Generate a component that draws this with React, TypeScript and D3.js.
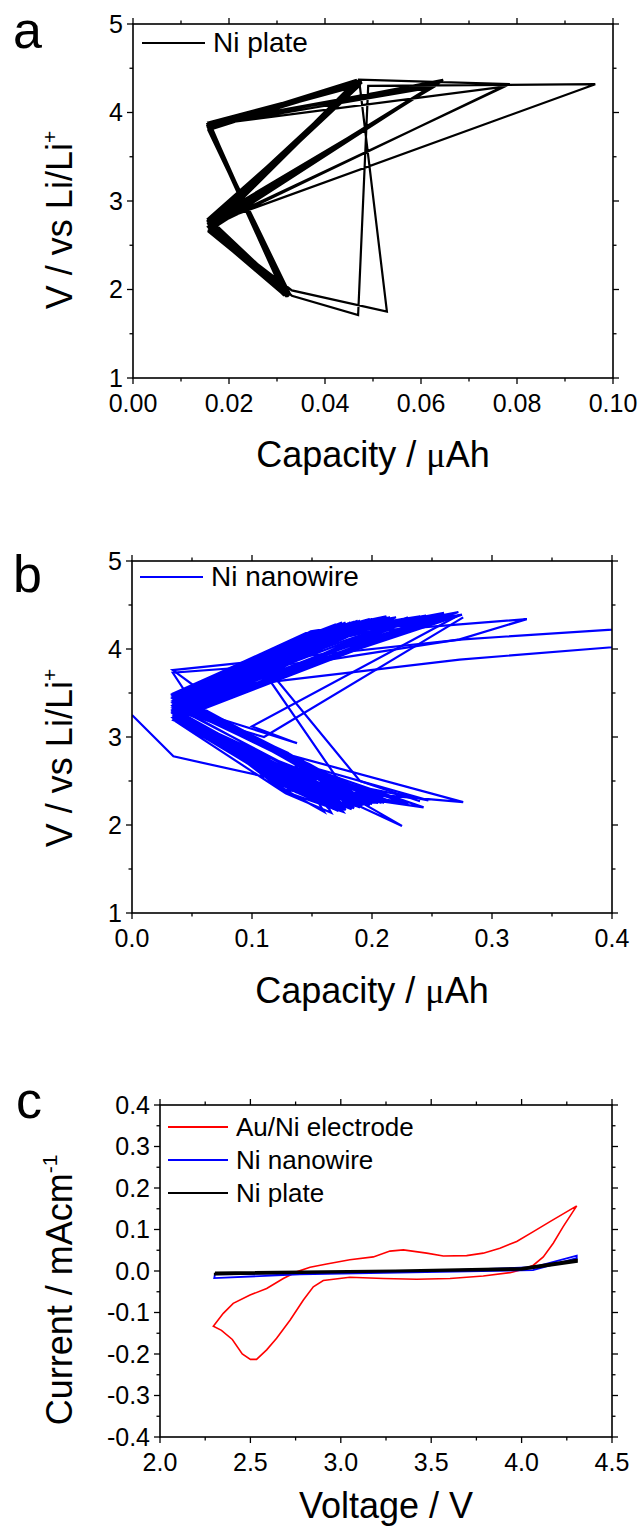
import React, { useRef, useEffect } from 'react';
import * as d3 from 'd3';

const W = 644;
const H = 1528;
const FONT = '"Liberation Sans", Arial, sans-serif';

// ---------- panel a : Ni plate ----------
// first cycles (the odd ones, with the long excursions)
const plateFirstCap = [0.0158, 0.0318, 0.0160, 0.0963, 0.0490, 0.0469, 0.0331, 0.0159, 0.0785, 0.0471, 0.0529, 0.0331, 0.0160, 0.0770];
const plateFirstV = [3.87, 1.95, 2.74, 4.32, 4.30, 1.71, 1.93, 2.72, 4.32, 4.37, 1.75, 1.99, 2.70, 4.29];
// later cycles: upper knee -> bottom -> lower knee -> top
const plateUCap = [0.0158, 0.0156, 0.0159, 0.0157, 0.0160, 0.0155, 0.0158, 0.0157, 0.0159, 0.0156, 0.0158, 0.0160, 0.0157, 0.0155, 0.0159, 0.0158, 0.0156, 0.0157, 0.0159, 0.0160, 0.0156, 0.0158, 0.0157, 0.0159];
const plateUV = [3.86, 3.84, 3.89, 3.82, 3.87, 3.85, 3.81, 3.89, 3.84, 3.86, 3.83, 3.88, 3.85, 3.87, 3.82, 3.86, 3.84, 3.80, 3.88, 3.85, 3.83, 3.87, 3.84, 3.86];
const plateBCap = [0.0318, 0.0322, 0.0315, 0.0325, 0.0320, 0.0312, 0.0327, 0.0319, 0.0316, 0.0323, 0.0321, 0.0314, 0.0326, 0.0318, 0.0320, 0.0317, 0.0324, 0.0319, 0.0313, 0.0322, 0.0328, 0.0316, 0.0321, 0.0318];
const plateBV = [1.94, 1.96, 1.93, 1.95, 1.92, 1.97, 1.94, 1.93, 1.96, 1.95, 1.92, 1.94, 1.96, 1.93, 1.95, 1.94, 1.92, 1.96, 1.95, 1.93, 1.94, 1.97, 1.92, 1.95];
const plateLCap = [0.0158, 0.0160, 0.0156, 0.0159, 0.0157, 0.0158, 0.0161, 0.0156, 0.0159, 0.0157, 0.0160, 0.0158, 0.0156, 0.0159, 0.0157, 0.0160, 0.0158, 0.0157, 0.0159, 0.0156, 0.0160, 0.0158, 0.0157, 0.0159];
const plateLV = [2.72, 2.68, 2.77, 2.70, 2.74, 2.65, 2.79, 2.71, 2.69, 2.75, 2.73, 2.66, 2.78, 2.70, 2.74, 2.72, 2.67, 2.76, 2.69, 2.80, 2.71, 2.66, 2.75, 2.73];
const plateTCap = [0.0472, 0.0465, 0.0470, 0.0640, 0.0475, 0.0468, 0.0630, 0.0473, 0.0646, 0.0469, 0.0476, 0.0620, 0.0471, 0.0467, 0.0638, 0.0474, 0.0470, 0.0645, 0.0466, 0.0473, 0.0632, 0.0469, 0.0477, 0.0642];
const plateTV = [4.36, 4.33, 4.35, 4.34, 4.37, 4.32, 4.30, 4.36, 4.37, 4.34, 4.35, 4.28, 4.33, 4.36, 4.35, 4.31, 4.34, 4.36, 4.37, 4.32, 4.33, 4.35, 4.34, 4.36];

// ---------- panel b : Ni nanowire ----------
const wireFirstCap = [0.0, 0.0345, 0.160, 0.225];
const wireFirstV = [3.25, 2.78, 2.40, 1.99];
const wireLeftHiCap = [0.035, 0.034, 0.036, 0.035, 0.034, 0.035, 0.036, 0.034, 0.035, 0.035, 0.034, 0.036, 0.035, 0.034, 0.035, 0.036, 0.034, 0.035, 0.035, 0.036, 0.034, 0.035, 0.035, 0.034, 0.035, 0.034, 0.036, 0.035, 0.035, 0.034, 0.036, 0.035, 0.034, 0.035, 0.036, 0.035];
const wireLeftHiV = [3.48, 3.45, 3.50, 3.42, 3.46, 3.40, 3.44, 3.47, 3.38, 3.43, 3.49, 3.41, 3.45, 3.36, 3.44, 3.47, 3.39, 3.42, 3.46, 3.40, 3.44, 3.37, 3.43, 3.48, 3.47, 3.41, 3.45, 3.50, 3.39, 3.44, 3.46, 3.42, 3.48, 3.37, 3.43, 3.45];
const wireUpMidCap = [0.140, 0.132, 0.145, 0.138, 0.150, 0.135, 0.142, 0.128, 0.147, 0.136, 0.141, 0.133, 0.148, 0.139, 0.144, 0.130, 0.137, 0.146, 0.134, 0.143, 0.131, 0.149, 0.138, 0.140, 0.136, 0.143, 0.131, 0.147, 0.139, 0.134, 0.145, 0.141, 0.129, 0.148, 0.137, 0.142];
const wireUpMidV = [4.12, 4.05, 4.18, 4.08, 4.15, 4.02, 4.10, 3.98, 4.16, 4.06, 4.13, 4.00, 4.19, 4.07, 4.11, 3.96, 4.09, 4.17, 4.04, 4.14, 3.99, 4.20, 4.08, 4.12, 4.10, 4.14, 4.01, 4.18, 4.06, 4.03, 4.15, 4.11, 3.97, 4.19, 4.07, 4.13];
const wireUpTipCap = [0.175, 0.205, 0.220, 0.190, 0.245, 0.210, 0.265, 0.180, 0.230, 0.272, 0.200, 0.255, 0.215, 0.185, 0.260, 0.225, 0.195, 0.240, 0.275, 0.170, 0.250, 0.210, 0.235, 0.268, 0.185, 0.200, 0.175, 0.210, 0.190, 0.178, 0.205, 0.195, 0.182, 0.212, 0.188, 0.198];
const wireUpTipV = [4.30, 4.33, 4.36, 4.31, 4.38, 4.34, 4.40, 4.29, 4.35, 4.42, 4.32, 4.37, 4.36, 4.30, 4.41, 4.34, 4.33, 4.37, 4.39, 4.28, 4.36, 4.33, 4.35, 4.38, 4.31, 4.34, 4.29, 4.36, 4.32, 4.30, 4.35, 4.33, 4.30, 4.37, 4.32, 4.34];
const wireLeftLoCap = [0.034, 0.035, 0.035, 0.036, 0.034, 0.035, 0.035, 0.034, 0.036, 0.035, 0.034, 0.035, 0.036, 0.035, 0.034, 0.035, 0.035, 0.036, 0.034, 0.035, 0.035, 0.034, 0.036, 0.035, 0.035, 0.034, 0.036, 0.035, 0.034, 0.035, 0.036, 0.035, 0.034, 0.035, 0.035, 0.036];
const wireLeftLoV = [3.30, 3.25, 3.35, 3.22, 3.28, 3.32, 3.19, 3.27, 3.34, 3.24, 3.29, 3.21, 3.31, 3.26, 3.33, 3.20, 3.28, 3.23, 3.30, 3.36, 3.25, 3.22, 3.29, 3.27, 3.24, 3.31, 3.18, 3.27, 3.33, 3.21, 3.29, 3.25, 3.35, 3.19, 3.28, 3.23];
const wireLoMidCap = [0.135, 0.140, 0.130, 0.145, 0.138, 0.128, 0.142, 0.133, 0.147, 0.136, 0.130, 0.144, 0.139, 0.131, 0.141, 0.137, 0.146, 0.129, 0.134, 0.143, 0.132, 0.140, 0.136, 0.138, 0.133, 0.141, 0.128, 0.145, 0.137, 0.131, 0.143, 0.139, 0.127, 0.146, 0.135, 0.140];
const wireLoMidV = [2.42, 2.48, 2.38, 2.52, 2.45, 2.40, 2.50, 2.44, 2.55, 2.41, 2.47, 2.39, 2.53, 2.43, 2.49, 2.37, 2.46, 2.51, 2.42, 2.56, 2.40, 2.48, 2.44, 2.50, 2.45, 2.52, 2.36, 2.58, 2.47, 2.41, 2.54, 2.49, 2.38, 2.60, 2.44, 2.51];
const wireLoTipCap = [0.170, 0.180, 0.160, 0.190, 0.175, 0.200, 0.165, 0.210, 0.185, 0.243, 0.172, 0.195, 0.178, 0.276, 0.168, 0.205, 0.182, 0.215, 0.176, 0.247, 0.188, 0.230, 0.174, 0.198, 0.178, 0.192, 0.166, 0.200, 0.185, 0.172, 0.208, 0.190, 0.176, 0.212, 0.183, 0.196];
const wireLoTipV = [2.18, 2.22, 2.15, 2.25, 2.20, 2.24, 2.17, 2.26, 2.21, 2.20, 2.16, 2.23, 2.19, 2.26, 2.18, 2.25, 2.20, 2.27, 2.17, 2.28, 2.21, 2.24, 2.16, 2.22, 2.17, 2.22, 2.14, 2.24, 2.19, 2.16, 2.25, 2.20, 2.15, 2.26, 2.18, 2.23];
const wireRetCap = [0.140, 0.150, 0.130, 0.145, 0.155, 0.135, 0.140, 0.160, 0.125, 0.150, 0.138, 0.145, 0.142, 0.130, 0.155, 0.148, 0.136, 0.152, 0.128, 0.146, 0.140, 0.158, 0.133, 0.144, 0.150, 0.137, 0.143, 0.131, 0.156, 0.140, 0.147, 0.134, 0.151, 0.139, 0.145, 0.130];
const wireRetV = [2.72, 2.62, 2.82, 2.70, 2.58, 2.78, 2.66, 2.55, 2.85, 2.64, 2.76, 2.68, 2.74, 2.80, 2.60, 2.69, 2.77, 2.63, 2.83, 2.67, 2.73, 2.57, 2.79, 2.71, 2.65, 2.75, 2.70, 2.81, 2.59, 2.74, 2.66, 2.78, 2.62, 2.72, 2.68, 2.80];
// stray cycles that leave the two bands
const wireStray1Cap = [0.060, 0.034, 0.276, 0.500, 0.500, 0.273, 0.1175, 0.050];
const wireStray1V = [3.50, 3.76, 4.11, 4.31, 4.13, 3.88, 3.63, 3.48];
const wireStray2Cap = [0.050, 0.034, 0.151, 0.273, 0.329, 0.200, 0.050];
const wireStray2V = [3.40, 3.73, 3.85, 4.11, 4.34, 4.20, 3.50];
const wireStray3Cap = [0.040, 0.1375, 0.100, 0.273];
const wireStray3V = [3.35, 2.93, 3.12, 4.39];
const wireStray4Cap = [0.035, 0.110, 0.276];
const wireStray4V = [3.30, 3.00, 4.36];
const wireStray5Cap = [0.230, 0.115, 0.170, 0.210];
const wireStray5V = [4.36, 3.64, 2.55, 2.25];
const wireStray6Cap = [0.260, 0.120, 0.190, 0.240];
const wireStray6V = [4.37, 3.66, 2.50, 2.27];

// ---------- panel c : cyclic voltammograms ----------
const auNiVolt = [4.305, 4.157, 4.065, 3.973, 3.880, 3.788, 3.696, 3.567, 3.475, 3.346, 3.272, 3.180, 3.050, 2.922, 2.830, 2.756, 2.682, 2.590, 2.498, 2.405, 2.350, 2.295, 2.340, 2.400, 2.455, 2.500, 2.534, 2.590, 2.645, 2.720, 2.793, 2.848, 2.903, 3.050, 3.235, 3.420, 3.604, 3.788, 3.936, 4.010, 4.065, 4.120, 4.175, 4.230, 4.305];
const auNiCur = [0.157, 0.119, 0.095, 0.071, 0.055, 0.043, 0.037, 0.036, 0.043, 0.051, 0.048, 0.034, 0.027, 0.017, 0.009, -0.002, -0.018, -0.042, -0.058, -0.078, -0.102, -0.133, -0.143, -0.165, -0.200, -0.213, -0.213, -0.190, -0.162, -0.118, -0.070, -0.038, -0.023, -0.015, -0.018, -0.020, -0.018, -0.012, -0.004, 0.004, 0.014, 0.034, 0.067, 0.107, 0.157];
const wireCvVolt = [2.304, 3.330, 4.063, 4.305, 4.305, 4.063, 2.774, 2.300, 2.304];
const wireCvCur = [-0.008, -0.002, 0.009, 0.037, 0.031, 0.002, -0.008, -0.017, -0.008];
const plateCvVolt = [2.304, 3.300, 4.000, 4.305, 4.305, 4.000, 3.300, 2.304, 2.304];
const plateCvCur = [-0.004, 0.001, 0.007, 0.027, 0.022, 0.003, -0.001, -0.008, -0.004];

// ticks
const voltTicks = [1, 2, 3, 4, 5];
const voltMinor = [1.5, 2.5, 3.5, 4.5];
const plateCapTicks = [0, 0.02, 0.04, 0.06, 0.08, 0.1];
const plateCapMinor = [0.01, 0.03, 0.05, 0.07, 0.09];
const wireCapTicks = [0, 0.1, 0.2, 0.3, 0.4];
const wireCapMinor = [0.05, 0.15, 0.25, 0.35];
const cvVoltTicks = [2, 2.5, 3, 3.5, 4, 4.5];
const cvVoltMinor = [2.25, 2.75, 3.25, 3.75, 4.25];
const cvCurTicks = [-0.4, -0.3, -0.2, -0.1, 0, 0.1, 0.2, 0.3, 0.4];
const cvCurMinor = [-0.35, -0.25, -0.15, -0.05, 0.05, 0.15, 0.25, 0.35];

type Pt = [number, number];
const zip = (a: number[], b: number[]): Pt[] => a.map((v, i) => [v, b[i]]);

function drawAxes(g: any, x: any, y: any, xt: number[], xm: number[], yt: number[], ym: number[], xf: (v: number) => string, yf: (v: number) => string) {
  const [xl, xr] = x.range();
  const [yb, ytop] = y.range();
  const tk = g.append('g').attr('stroke', '#000').attr('stroke-width', 1.3);
  const xTick = (v: number, len: number) => {
    const px = x(v);
    tk.append('line').attr('x1', px).attr('x2', px).attr('y1', yb).attr('y2', yb + len);
    tk.append('line').attr('x1', px).attr('x2', px).attr('y1', ytop).attr('y2', ytop - len);
  };
  const yTick = (v: number, len: number) => {
    const py = y(v);
    tk.append('line').attr('y1', py).attr('y2', py).attr('x1', xl).attr('x2', xl - len);
    tk.append('line').attr('y1', py).attr('y2', py).attr('x1', xr).attr('x2', xr + len);
  };
  xt.forEach((v) => xTick(v, 6));
  xm.forEach((v) => xTick(v, 3.5));
  yt.forEach((v) => yTick(v, 6));
  ym.forEach((v) => yTick(v, 3.5));
  g.append('rect')
    .attr('x', xl).attr('y', ytop).attr('width', xr - xl).attr('height', yb - ytop)
    .attr('fill', 'none').attr('stroke', '#000').attr('stroke-width', 1.6);
  g.append('g').selectAll('text').data(xt).join('text')
    .attr('x', (d: number) => x(d)).attr('y', yb + 34)
    .attr('text-anchor', 'middle').attr('font-size', 25).attr('font-family', FONT)
    .text((d: number) => xf(d));
  g.append('g').selectAll('text').data(yt).join('text')
    .attr('x', xl - 10).attr('y', (d: number) => y(d)).attr('dy', '0.35em')
    .attr('text-anchor', 'end').attr('font-size', 25).attr('font-family', FONT)
    .text((d: number) => yf(d));
}

function yTitle(g: any, x: number, cy: number, main: string, sup: string) {
  const t = g.append('text')
    .attr('transform', `translate(${x},${cy}) rotate(-90)`)
    .attr('text-anchor', 'middle').attr('font-size', 36).attr('font-family', FONT);
  t.append('tspan').text(main);
  t.append('tspan').attr('dy', -15).attr('font-size', 21).text(sup);
}

function capTitle(g: any, cx: number, y: number) {
  const t = g.append('text').attr('x', cx).attr('y', y)
    .attr('text-anchor', 'middle').attr('font-size', 36).attr('font-family', FONT);
  t.append('tspan').text('Capacity / ');
  t.append('tspan').attr('font-family', '"Liberation Serif", serif').text('\u03bc');
  t.append('tspan').text('Ah');
}

function legend(g: any, x: number, y: number, color: string, label: string, size: number, len: number) {
  g.append('line').attr('x1', x).attr('x2', x + len).attr('y1', y).attr('y2', y)
    .attr('stroke', color).attr('stroke-width', 2);
  g.append('text').attr('x', x + len + 8).attr('y', y).attr('dy', '0.33em')
    .attr('font-size', size).attr('font-family', FONT).text(label);
}

function panelLetter(g: any, x: number, y: number, s: string) {
  g.append('text').attr('x', x).attr('y', y).attr('font-size', 52).attr('font-family', FONT).text(s);
}

export default function App() {
  const ref = useRef<SVGSVGElement>(null);

  useEffect(() => {
    const svg = d3.select(ref.current);
    svg.selectAll('*').remove();
    const defs = svg.append('defs');
    const clip = (id: string, x: any, y: any) => {
      const [xl, xr] = x.range();
      const [yb, yt] = y.range();
      defs.append('clipPath').attr('id', id).append('rect')
        .attr('x', xl).attr('y', yt).attr('width', xr - xl).attr('height', yb - yt);
    };

    // ----- a -----
    const xa = d3.scaleLinear().domain([0, 0.1]).range([133, 613]);
    const ya = d3.scaleLinear().domain([1, 5]).range([378, 24]);
    clip('clip-a', xa, ya);
    const ga = svg.append('g');
    const platePts: Pt[] = zip(plateFirstCap, plateFirstV);
    plateUCap.forEach((_, i) => {
      platePts.push([plateUCap[i], plateUV[i]]);
      platePts.push([plateBCap[i], plateBV[i]]);
      platePts.push([plateLCap[i], plateLV[i]]);
      platePts.push([plateTCap[i], plateTV[i]]);
    });
    const lineA = d3.line<Pt>().x((d) => xa(d[0])).y((d) => ya(d[1]));
    ga.append('path').attr('d', lineA(platePts)).attr('fill', 'none')
      .attr('stroke', '#000').attr('stroke-width', 2.2).attr('clip-path', 'url(#clip-a)');
    drawAxes(ga, xa, ya, plateCapTicks, plateCapMinor, voltTicks, voltMinor, (v) => v.toFixed(2), (v) => String(v));
    legend(ga, 142, 43, '#000', 'Ni plate', 28, 63);
    capTitle(ga, 373, 467);
    yTitle(ga, 72, 220, 'V / vs Li/Li', '+');
    panelLetter(ga, 13, 48, 'a');

    // ----- b -----
    const xb = d3.scaleLinear().domain([0, 0.4]).range([132, 612]);
    const yb = d3.scaleLinear().domain([1, 5]).range([913, 561]);
    clip('clip-b', xb, yb);
    const gb = svg.append('g');
    const wirePts: Pt[] = zip(wireFirstCap, wireFirstV);
    wireLeftHiCap.forEach((_, i) => {
      wirePts.push([wireLeftHiCap[i], wireLeftHiV[i]]);
      wirePts.push([wireUpMidCap[i], wireUpMidV[i]]);
      wirePts.push([wireUpTipCap[i], wireUpTipV[i]]);
      wirePts.push([wireLeftLoCap[i], wireLeftLoV[i]]);
      wirePts.push([wireLoMidCap[i], wireLoMidV[i]]);
      wirePts.push([wireLoTipCap[i], wireLoTipV[i]]);
      wirePts.push([wireRetCap[i], wireRetV[i]]);
    });
    const strays: Pt[][] = [
      zip(wireStray1Cap, wireStray1V),
      zip(wireStray2Cap, wireStray2V),
      zip(wireStray3Cap, wireStray3V),
      zip(wireStray4Cap, wireStray4V),
      zip(wireStray5Cap, wireStray5V),
      zip(wireStray6Cap, wireStray6V),
    ];
    const lineB = d3.line<Pt>().x((d) => xb(d[0])).y((d) => yb(d[1]));
    const wireG = gb.append('g').attr('clip-path', 'url(#clip-b)')
      .attr('fill', 'none').attr('stroke', '#0000ff').attr('stroke-width', 2.2);
    [wirePts, ...strays].forEach((p) => wireG.append('path').attr('d', lineB(p)));
    drawAxes(gb, xb, yb, wireCapTicks, wireCapMinor, voltTicks, voltMinor, (v) => v.toFixed(1), (v) => String(v));
    legend(gb, 140, 577, '#0000ff', 'Ni nanowire', 28, 63);
    capTitle(gb, 372, 1003);
    yTitle(gb, 72, 758, 'V / vs Li/Li', '+');
    panelLetter(gb, 13, 592, 'b');

    // ----- c -----
    const xc = d3.scaleLinear().domain([2, 4.5]).range([160, 612]);
    const yc = d3.scaleLinear().domain([-0.4, 0.4]).range([1437, 1105]);
    clip('clip-c', xc, yc);
    const gc = svg.append('g');
    const lineC = d3.line<Pt>().x((d) => xc(d[0])).y((d) => yc(d[1]));
    const cvG = gc.append('g').attr('clip-path', 'url(#clip-c)').attr('fill', 'none');
    cvG.append('path').attr('d', lineC(zip(auNiVolt, auNiCur))).attr('stroke', '#ff0000').attr('stroke-width', 1.6);
    cvG.append('path').attr('d', lineC(zip(wireCvVolt, wireCvCur))).attr('stroke', '#0000ff').attr('stroke-width', 1.8);
    cvG.append('path').attr('d', lineC(zip(plateCvVolt, plateCvCur))).attr('stroke', '#000').attr('stroke-width', 2.2);
    drawAxes(gc, xc, yc, cvVoltTicks, cvVoltMinor, cvCurTicks, cvCurMinor, (v) => v.toFixed(1), (v) => v.toFixed(1));
    legend(gc, 168, 1127, '#ff0000', 'Au/Ni electrode', 26, 60);
    legend(gc, 168, 1160, '#0000ff', 'Ni nanowire', 26, 60);
    legend(gc, 168, 1193, '#000', 'Ni plate', 26, 60);
    gc.append('text').attr('x', 386).attr('y', 1518).attr('text-anchor', 'middle')
      .attr('font-size', 36).attr('font-family', FONT).text('Voltage / V');
    yTitle(gc, 72, 1290, 'Current / mAcm', '-1');
    panelLetter(gc, 16, 1118, 'c');
  }, []);

  return (
    <svg
      ref={ref}
      width={W}
      height={H}
      style={{ position: 'absolute', left: 0, top: 0, display: 'block', background: '#fff' }}
    />
  );
}
